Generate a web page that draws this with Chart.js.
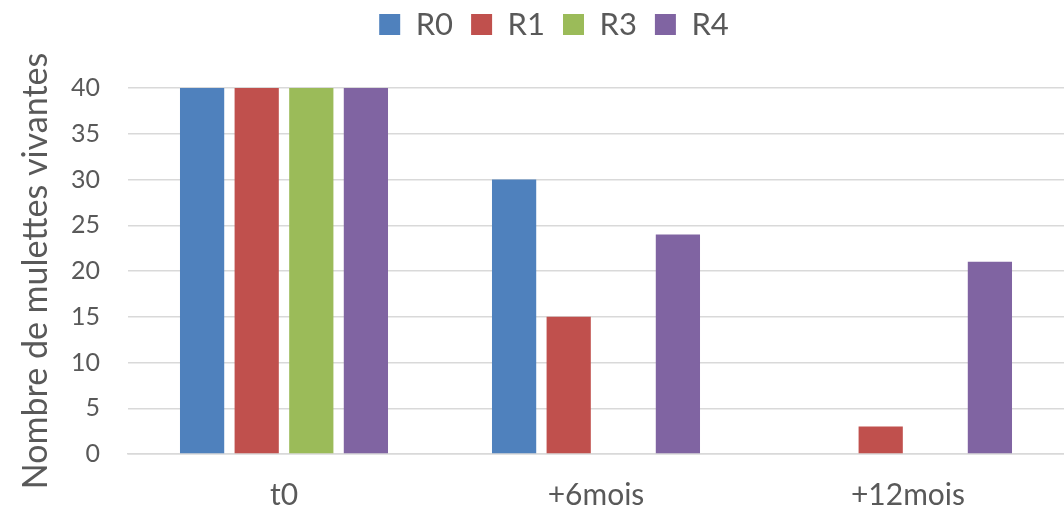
<!DOCTYPE html>
<html>
<head>
<meta charset="utf-8">
<script src="https://cdn.jsdelivr.net/npm/chart.js@4.4.1/dist/chart.umd.min.js"></script>
<style>
  html, body { margin:0; padding:0; background:#fff; overflow:hidden; }
  #wrap { width:1064px; height:510px; position:relative; }
</style>
</head>
<body>
<div id="wrap"><canvas id="chart"></canvas></div>
<script>
const categories = ['t0', '+6mois', '+12mois'];
const seriesNames = ['R0', 'R1', 'R3', 'R4'];
const r0 = [40, 30, 0];
const r1 = [40, 15, 3];
const r3 = [40, 0, 0];
const r4 = [40, 24, 21];
const yTicks = [0, 5, 10, 15, 20, 25, 30, 35, 40];

const colors = ['#4F81BD', '#C0504D', '#9BBB59', '#8064A2'];
const textColor = '#595959';
const fontFamily = 'Lato, "Open Sans", sans-serif';

// legend sits a bit right of centre and has a gap under it
const legendTweak = {
    id: 'legendTweak',
    beforeInit(chart) {
        const fit = chart.legend.fit;
        chart.legend.fit = function() {
            fit.call(this);
            this.height = 97;
        };
    },
    afterLayout(chart) {
        chart.legend.left += 44;
    }
};

const datasets = [r0, r1, r3, r4].map((vals, i) => ({
    label: seriesNames[i],
    data: vals,
    backgroundColor: colors[i],
    borderWidth: 0,
    categoryPercentage: 0.7,
    barPercentage: 0.81
}));

new Chart(document.getElementById('chart').getContext('2d'), {
    type: 'bar',
    data: { labels: categories, datasets },
    plugins: [legendTweak],
    options: {
        responsive: true,
        maintainAspectRatio: false,
        animation: false,
        layout: { padding: { top: -9, left: 0, right: 0, bottom: 0 } },
        plugins: {
            legend: {
                position: 'top',
                labels: {
                    color: textColor,
                    font: { family: fontFamily, size: 31 },
                    boxWidth: 21,
                    boxHeight: 21,
                    padding: 18
                }
            },
            tooltip: { enabled: false }
        },
        scales: {
            x: {
                grid: { display: false },
                border: { color: '#d9d9d9', width: 1.5 },
                ticks: { color: textColor, font: { family: fontFamily, size: 30 }, padding: 15 },
                afterFit(scale) { scale.height = 56; }
            },
            y: {
                min: 0,
                max: 40,
                afterBuildTicks(scale) { scale.ticks = yTicks.map(v => ({ value: v })); },
                grid: { color: '#d9d9d9', lineWidth: 1.5, drawTicks: false },
                border: { display: false },
                ticks: { color: textColor, font: { family: fontFamily, size: 25 }, padding: 28 },
                title: {
                    display: true,
                    text: 'Nombre de mulettes vivantes',
                    color: textColor,
                    font: { family: fontFamily, size: 34 },
                    padding: { top: 16, bottom: 0 }
                },
                afterFit(scale) { scale.width = 128; }
            }
        }
    }
});
</script>
</body>
</html>
